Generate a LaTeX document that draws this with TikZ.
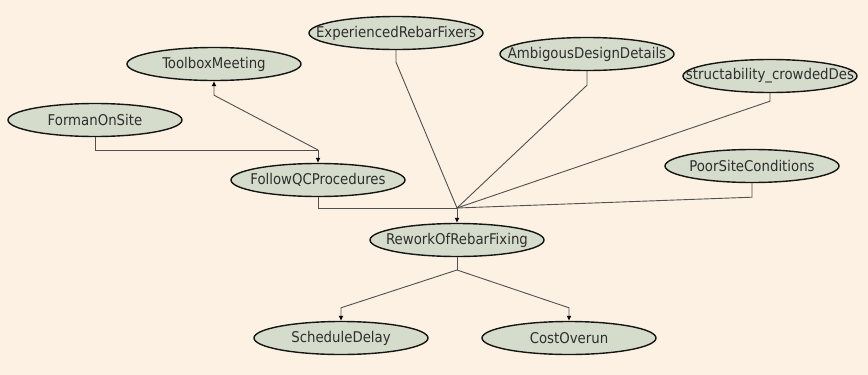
\documentclass[tikz,border=0pt]{standalone}
\usepackage{fontspec}
\setmainfont{DejaVu Sans Condensed}
\usetikzlibrary{shapes.geometric,arrows.meta,calc}

\definecolor{canvas}{HTML}{FDF1E3}
\definecolor{nodefill}{HTML}{D6DCCB}
\definecolor{nodeedge}{HTML}{151515}
\definecolor{linkgray}{HTML}{505050}
\definecolor{labelgray}{HTML}{2E2E2E}

% zero-width label so every ellipse keeps the same fixed size
\newcommand{\varlabel}[1]{\makebox[0pt][c]{#1}}

\tikzset{
  labelfont/.style={font=\fontsize{14.8}{15}\selectfont, text=labelgray},
  bnode/.style={ellipse, draw=nodeedge, line width=1.4pt, fill=nodefill,
    minimum width=174pt, minimum height=33pt, inner sep=0pt, labelfont},
  link/.style={draw=linkgray, line width=0.9pt},
  arr/.style={link, -{Latex[length=5pt,width=5pt,fill=black,color=black]}},
}

\begin{document}
\begin{tikzpicture}[x=1pt,y=-1pt]
  \useasboundingbox (0,0) rectangle (868,375);
  \fill[canvas] (0,0) rectangle (868,375);

  % variables
  \node[bnode] (exp)     at (396,33)  {\varlabel{ExperiencedRebarFixers}};
  \node[bnode] (toolbox) at (214,64)  {\varlabel{ToolboxMeeting}};
  \node[bnode] (ambig)   at (587,54)  {\varlabel{AmbigousDesignDetails}};
  \node[bnode, path picture={\node[labelfont]
        at (path picture bounding box.center) {structability\_crowdedDes};}]
        (cons) at (770,76) {};
  \node[bnode] (forman)  at (95,120)  {\varlabel{FormanOnSite}};
  \node[bnode] (qc)      at (318,180) {\varlabel{FollowQCProcedures}};
  \node[bnode] (poor)    at (752,166) {\varlabel{PoorSiteConditions}};
  \node[bnode] (rework)  at (457,240) {\varlabel{ReworkOfRebarFixing}};
  \node[bnode] (sched)   at (341,338) {\varlabel{ScheduleDelay}};
  \node[bnode] (cost)    at (569,338) {\varlabel{CostOverun}};

  % junction points of the connectors
  \coordinate (jqc)  at (318,150);
  \coordinate (jrw)  at (457,208);
  \coordinate (jout) at (457,270);

  % into FollowQCProcedures and ToolboxMeeting
  \draw[link] (forman.south) |- (jqc);
  \draw[arr] (jqc) -- (qc.north);
  \draw[arr] (jqc) -- ($(toolbox.south)+(0,14)$) -- (toolbox.south);

  % into ReworkOfRebarFixing
  \draw[link] (exp.south) -- ++(0,12) -- (jrw);
  \draw[link] (ambig.south) -- ++(0,14) -- (jrw);
  \draw[link] (cons.south) -- ++(0,8) -- (jrw);
  \draw[link] (poor.south) -- ++(0,14) -- (jrw);
  \draw[link] (qc.south) |- (jrw);
  \draw[arr] (jrw) -- (rework.north);

  % consequences
  \draw[link] (rework.south) -- (jout);
  \draw[arr] (jout) -- ($(sched.north)+(0,-13)$) -- (sched.north);
  \draw[arr] (jout) -- ($(cost.north)+(0,-13)$) -- (cost.north);
\end{tikzpicture}
\end{document}
